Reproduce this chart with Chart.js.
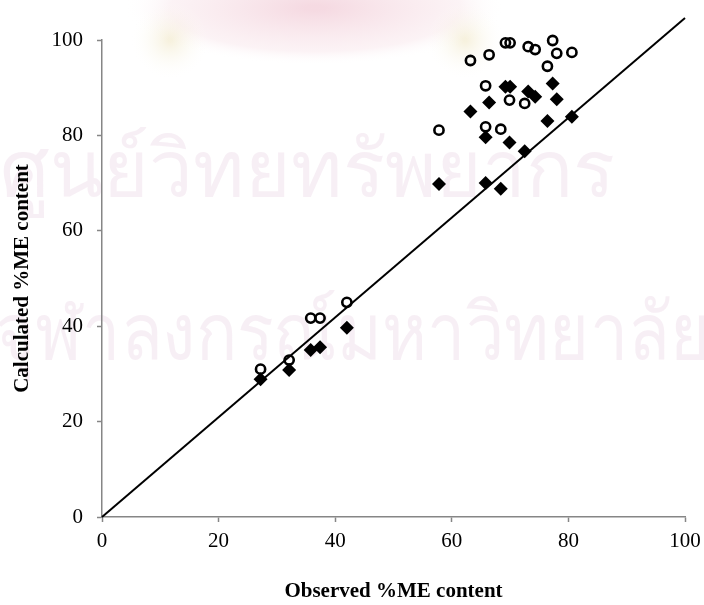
<!DOCTYPE html>
<html>
<head>
<meta charset="utf-8">
<script src="https://cdn.jsdelivr.net/npm/chart.js@4/dist/chart.umd.min.js"></script>
<style>
  html, body { margin: 0; padding: 0; background: #fff; }
  #wrap { width: 704px; height: 605px; }
</style>
</head>
<body>
<div id="wrap"><canvas id="c" width="704" height="605"></canvas></div>
<script>
// Observed %ME content for each sample
const observed = [27.2, 32.1, 35.8, 37.4, 42.0, 57.8, 63.2, 65.8, 65.8, 66.4, 68.4,
                  69.2, 70.0, 69.9, 72.5, 73.1, 74.3, 76.4, 77.3, 78.0, 80.6];
// Calculated %ME content, model 1 (open circles)
const calcCircle = [31.0, 32.9, 41.7, 41.7, 45.0, 81.1, 95.7, 90.4, 81.8, 96.9, 81.3,
                    99.4, 99.4, 87.4, 86.7, 98.6, 98.0, 94.5, 99.9, 97.2, 97.4];
// Calculated %ME content, model 2 (filled diamonds)
const calcDiamond = [28.9, 30.8, 35.0, 35.6, 39.7, 69.8, 85.0, 79.6, 70.0, 86.9, 68.8,
                     90.2, 90.2, 78.5, 76.7, 89.2, 88.1, 83.0, 90.9, 87.6, 83.9];
// Reference line end points
const lineX = [0, 100];
const lineY = [0, 104.6];
// Axis ticks
const tickValues = [0, 20, 40, 60, 80, 100];

const toPoints = (xs, ys) => xs.map((x, i) => ({ x: x, y: ys[i] }));

// Faint background watermark: emblem glow and university name
const watermark = {
  id: 'watermark',
  beforeDraw(chart) {
    const ctx = chart.ctx;
    ctx.save();
    ctx.fillStyle = '#ffffff';
    ctx.fillRect(0, 0, chart.width, chart.height);

    // soft emblem glow at the top
    ctx.save();
    ctx.translate(315, 8);
    ctx.scale(1, 0.3);
    let g = ctx.createRadialGradient(0, 0, 10, 0, 0, 190);
    g.addColorStop(0, 'rgba(225, 140, 165, 0.32)');
    g.addColorStop(0.75, 'rgba(235, 180, 195, 0.16)');
    g.addColorStop(1, 'rgba(255, 255, 255, 0)');
    ctx.fillStyle = g;
    ctx.beginPath();
    ctx.arc(0, 0, 190, 0, Math.PI * 2);
    ctx.fill();
    ctx.restore();
    [[170, 40], [465, 40]].forEach(([cx, cy]) => {
      const y = ctx.createRadialGradient(cx, cy, 2, cx, cy, 40);
      y.addColorStop(0, 'rgba(235, 222, 175, 0.4)');
      y.addColorStop(1, 'rgba(255, 255, 255, 0)');
      ctx.fillStyle = y;
      ctx.fillRect(cx - 40, cy - 40, 80, 80);
    });

    ctx.fillStyle = 'rgba(205, 160, 195, 0.17)';
    ctx.font = '80px "DejaVu Sans", "Noto Sans", sans-serif';
    ctx.textBaseline = 'alphabetic';
    ctx.fillText('ศูนย์วิทยทรัพยากร', 0, 197, 615);
    ctx.fillText('จุฬาลงกรณ์มหาวิทยาลัย', -5, 360, 715);
    ctx.restore();
  }
};

const serif = '"Liberation Serif", "Times New Roman", serif';
const axisGrey = '#868686';

new Chart(document.getElementById('c'), {
  type: 'scatter',
  data: {
    datasets: [
      {
        label: 'Model 2',
        data: toPoints(observed, calcDiamond),
        pointStyle: 'rectRot',
        pointRadius: 7,
        pointBackgroundColor: '#000',
        pointBorderColor: '#000',
        pointBorderWidth: 0,
        clip: false
      },
      {
        label: 'Model 1',
        data: toPoints(observed, calcCircle),
        pointStyle: 'circle',
        pointRadius: 4.6,
        pointBackgroundColor: 'rgba(0,0,0,0)',
        pointBorderColor: '#000',
        pointBorderWidth: 2.6,
        clip: false
      },
      {
        label: '1:1',
        data: toPoints(lineX, lineY),
        showLine: true,
        borderColor: '#000',
        borderWidth: 2,
        pointRadius: 0,
        clip: false
      }
    ]
  },
  plugins: [watermark],
  options: {
    responsive: false,
    animation: false,
    events: [],
    layout: { padding: { left: 0, right: 19, top: 40, bottom: 0 } },
    plugins: { legend: { display: false }, tooltip: { enabled: false } },
    scales: {
      x: {
        type: 'linear',
        min: 0, max: 100,
        afterBuildTicks: (s) => { s.ticks = tickValues.map(v => ({ value: v })); },
        afterFit: (s) => { s.height = 88; s.paddingRight = 0; s.paddingLeft = 0; },
        ticks: { color: '#000', font: { family: serif, size: 21 }, padding: 7 },
        grid: { drawOnChartArea: false, drawTicks: true, tickLength: 5, tickColor: axisGrey, tickWidth: 1.5 },
        border: { display: true, color: axisGrey, width: 1.5 },
        title: { display: true, text: 'Observed %ME content', color: '#000',
                 font: { family: serif, size: 21, weight: 'bold' }, padding: { top: 0, bottom: 1 } }
      },
      y: {
        type: 'linear',
        min: 0, max: 100,
        afterBuildTicks: (s) => { s.ticks = tickValues.map(v => ({ value: v })); },
        afterFit: (s) => { s.width = 102; s.paddingTop = 0; s.paddingBottom = 0; },
        ticks: { color: '#000', font: { family: serif, size: 21 }, padding: 14 },
        grid: { drawOnChartArea: false, drawTicks: true, tickLength: 5, tickColor: axisGrey, tickWidth: 1.5 },
        border: { display: true, color: axisGrey, width: 1.5 },
        title: { display: true, text: 'Calculated %ME content', color: '#000',
                 font: { family: serif, size: 21, weight: 'bold' }, padding: { top: 10, bottom: 0 } }
      }
    }
  }
});
</script>
</body>
</html>
